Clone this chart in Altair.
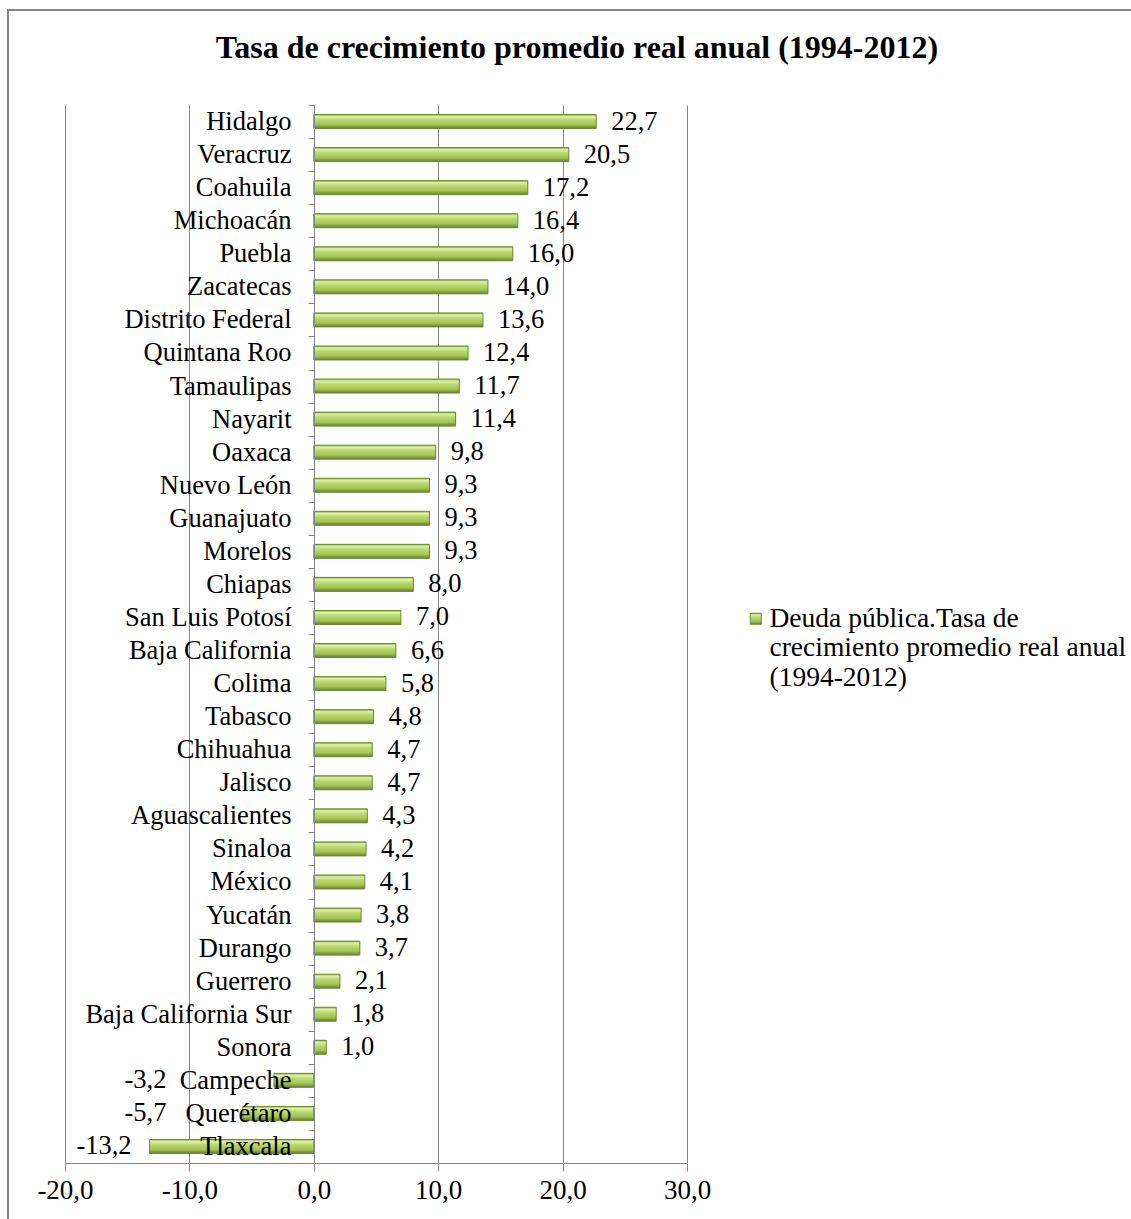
import altair as alt
import pandas as pd

# Entidades ordenadas de mayor a menor tasa
ENTIDADES = [
    "Hidalgo", "Veracruz\u00a0", "Coahuila\u00a0", "Michoacán", "Puebla", "Zacatecas",
    "Distrito Federal", "Quintana Roo", "Tamaulipas", "Nayarit", "Oaxaca",
    "Nuevo León", "Guanajuato", "Morelos", "Chiapas", "San Luis Potosí",
    "Baja California", "Colima", "Tabasco", "Chihuahua", "Jalisco",
    "Aguascalientes", "Sinaloa", "México", "Yucatán", "Durango", "Guerrero",
    "Baja California Sur", "Sonora", "Campeche", "Querétaro", "Tlaxcala",
]
TASAS = [
    22.7, 20.5, 17.2, 16.4, 16.0, 14.0, 13.6, 12.4, 11.7, 11.4, 9.8,
    9.3, 9.3, 9.3, 8.0, 7.0, 6.6, 5.8, 4.8, 4.7, 4.7,
    4.3, 4.2, 4.1, 3.8, 3.7, 2.1, 1.8, 1.0, -3.2, -5.7, -13.2,
]
X_TICKS = [-20, -10, 0, 10, 20, 30]
SERIE = "Deuda pública.Tasa de|crecimiento promedio real anual|(1994-2012)"
TITULO = "Tasa de crecimiento promedio real anual (1994-2012)"

df = pd.DataFrame({"entidad": ENTIDADES, "tasa": TASAS})
df["etiqueta"] = [f"{v:.1f}".replace(".", ",") for v in TASAS]
df["serie"] = SERIE

FONT = "Liberation Serif"
FS = 26.5
GRAY = "#868686"
W, H = 622, 1058
PAD_L, PAD_T = 65, 105
PAD_R, PAD_B = 1131 - PAD_L - W, 1219 - PAD_T - H

x_scale = alt.Scale(domain=[-20, 30], nice=False, zero=False)
y_scale = alt.Scale(domain=ENTIDADES, paddingInner=0, paddingOuter=0)

base = alt.Chart(df)

# Barras con degradado vertical (efecto cilíndrico)
gradiente = alt.LinearGradient(
    gradient="linear", x1=0, x2=0, y1=0, y2=1,
    stops=[
        alt.GradientStop(offset=0, color="#8aa845"),
        alt.GradientStop(offset=0.14, color="#e0eeb0"),
        alt.GradientStop(offset=0.38, color="#bad86e"),
        alt.GradientStop(offset=0.72, color="#a3c454"),
        alt.GradientStop(offset=1, color="#657f28"),
    ],
)

barras = base.mark_bar(size=14, fill=gradiente, strokeWidth=1).encode(
    x=alt.X(
        "tasa:Q", scale=x_scale,
        axis=alt.Axis(
            values=X_TICKS, grid=True, gridColor=GRAY, gridOpacity=1,
            domainColor=GRAY, tickColor=GRAY, tickSize=8, title=None,
            labelFont=FONT, labelFontSize=27, labelColor="black",
            labelPadding=6, labelFlush=False,
            labelExpr="replace(replace(format(datum.value, '.1f'), '.', ','), '\u2212', '-')",
        ),
    ),
    y=alt.Y(
        "entidad:N", scale=y_scale, sort=ENTIDADES,
        axis=alt.Axis(
            orient="left", offset=-249, title=None, grid=False,
            domainColor=GRAY, tickColor=GRAY, tickSize=6, tickBand="extent",
            labelFont=FONT, labelFontSize=FS, labelColor="black",
            labelPadding=17, labelLimit=400, zindex=1,
        ),
    ),
    stroke=alt.Stroke(
        "serie:N",
        scale=alt.Scale(range=["#6b8a2a"]),
        legend=alt.Legend(
            title=None, orient="none", legendX=677, legendY=500, padding=0,
            symbolType="square", symbolSize=121, symbolFillColor="#a3c454",
            symbolStrokeWidth=1, labelFont=FONT, labelFontSize=27.5,
            labelColor="black", labelLimit=0, labelOffset=0,
            labelExpr="split(datum.label, '|')",
        ),
    ),
)

etq_pos = base.transform_filter("datum.tasa >= 0").mark_text(
    align="left", baseline="middle", dx=15, font=FONT, fontSize=FS, color="black"
).encode(
    x=alt.X("tasa:Q", scale=x_scale),
    y=alt.Y("entidad:N", scale=y_scale, sort=ENTIDADES),
    text="etiqueta:N",
)

# Las etiquetas negativas se colocan a la izquierda del nombre de la entidad
etq_neg = base.transform_filter("datum.tasa < 0").transform_calculate(
    pos="min(datum.tasa, -10.4)"
).mark_text(
    align="right", baseline="middle", dx=-18, font=FONT, fontSize=FS, color="black"
).encode(
    x=alt.X("pos:Q", scale=x_scale),
    y=alt.Y("entidad:N", scale=y_scale, sort=ENTIDADES),
    text="etiqueta:N",
)

# Marco del área del gráfico
marco = alt.Chart(pd.DataFrame({"k": [0]})).mark_rect(
    fill=None, stroke=GRAY, strokeWidth=2, clip=False
).encode(
    x=alt.value(8 - PAD_L), x2=alt.value(1131 - PAD_L + 10),
    y=alt.value(10 - PAD_T), y2=alt.value(1219 - PAD_T + 10),
)

# El título se mide desde el borde superior del marco (y = 10 - PAD_T)
chart = alt.layer(marco, barras, etq_pos, etq_neg).properties(
    width=W, height=H,
    title=alt.TitleParams(
        TITULO, font=FONT, fontSize=32, fontWeight="bold", color="black",
        anchor="middle", frame="group", dx=201, offset=-56,
    ),
    autosize=alt.AutoSizeParams(type="none"),
    padding={"left": PAD_L, "top": PAD_T, "right": PAD_R, "bottom": PAD_B},
).configure(background="white").configure_view(stroke=None)

chart.save("out.html", embed_options={"renderer": "svg", "actions": False})
